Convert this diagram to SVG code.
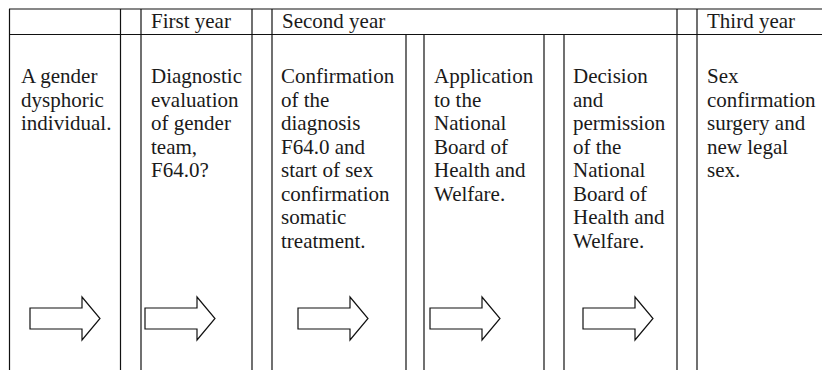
<svg xmlns="http://www.w3.org/2000/svg" width="822" height="370" viewBox="0 0 822 370">
<style>
.t{font-family:"Liberation Serif","Times New Roman",serif;font-size:21px;fill:#1a1a1a}
.ln{stroke:#111;stroke-width:1.2;fill:none}
.ar{fill:#fff;stroke:#111;stroke-width:1.2;stroke-linejoin:miter}
</style>
<defs>
<polygon id="arr" points="0,308 52,308 52,297 70,318.5 52,340 52,329 0,329"/>
</defs>
<rect width="822" height="370" fill="#fff"/>
<g id="grid">
<line class="ln" x1="9" y1="9" x2="822" y2="9"/>
<line class="ln" x1="9" y1="34.5" x2="822" y2="34.5"/>
<line class="ln" x1="9.5" y1="9" x2="9.5" y2="370"/>
<line class="ln" x1="120.5" y1="9" x2="120.5" y2="370"/>
<line class="ln" x1="141" y1="9" x2="141" y2="370"/>
<line class="ln" x1="252" y1="9" x2="252" y2="370"/>
<line class="ln" x1="272" y1="9" x2="272" y2="370"/>
<line class="ln" x1="406" y1="34.5" x2="406" y2="370"/>
<line class="ln" x1="424" y1="34.5" x2="424" y2="370"/>
<line class="ln" x1="544" y1="34.5" x2="544" y2="370"/>
<line class="ln" x1="564" y1="34.5" x2="564" y2="370"/>
<line class="ln" x1="677" y1="9" x2="677" y2="370"/>
<line class="ln" x1="697" y1="9" x2="697" y2="370"/>
</g>
<g id="headers">
<text class="t" x="151" y="28">First year</text>
<text class="t" x="282" y="28">Second year</text>
<text class="t" x="707" y="28">Third year</text>
</g>
<g id="step1">
<text class="t" x="21" y="83">A gender</text>
<text class="t" x="21" y="106.5">dysphoric</text>
<text class="t" x="21" y="130">individual.</text>
</g>
<g id="step2">
<text class="t" x="151" y="83">Diagnostic</text>
<text class="t" x="151" y="106.5">evaluation</text>
<text class="t" x="151" y="130">of gender</text>
<text class="t" x="151" y="153.5">team,</text>
<text class="t" x="151" y="177">F64.0?</text>
</g>
<g id="step3">
<text class="t" x="281" y="83">Confirmation</text>
<text class="t" x="281" y="106.5">of the</text>
<text class="t" x="281" y="130">diagnosis</text>
<text class="t" x="281" y="153.5">F64.0 and</text>
<text class="t" x="281" y="177">start of sex</text>
<text class="t" x="281" y="200.5">confirmation</text>
<text class="t" x="281" y="224">somatic</text>
<text class="t" x="281" y="247.5">treatment.</text>
</g>
<g id="step4">
<text class="t" x="434" y="83">Application</text>
<text class="t" x="434" y="106.5">to the</text>
<text class="t" x="434" y="130">National</text>
<text class="t" x="434" y="153.5">Board of</text>
<text class="t" x="434" y="177">Health and</text>
<text class="t" x="434" y="200.5">Welfare.</text>
</g>
<g id="step5">
<text class="t" x="573" y="83">Decision</text>
<text class="t" x="573" y="106.5">and</text>
<text class="t" x="573" y="130">permission</text>
<text class="t" x="573" y="153.5">of the</text>
<text class="t" x="573" y="177">National</text>
<text class="t" x="573" y="200.5">Board of</text>
<text class="t" x="573" y="224">Health and</text>
<text class="t" x="573" y="247.5">Welfare.</text>
</g>
<g id="step6">
<text class="t" x="707" y="83">Sex</text>
<text class="t" x="707" y="106.5">confirmation</text>
<text class="t" x="707" y="130">surgery and</text>
<text class="t" x="707" y="153.5">new legal</text>
<text class="t" x="707" y="177">sex.</text>
</g>
<g id="connectors">
<use href="#arr" class="ar" x="30"/>
<use href="#arr" class="ar" x="145"/>
<use href="#arr" class="ar" x="298"/>
<use href="#arr" class="ar" x="430"/>
<use href="#arr" class="ar" x="583"/>
</g>
</svg>
